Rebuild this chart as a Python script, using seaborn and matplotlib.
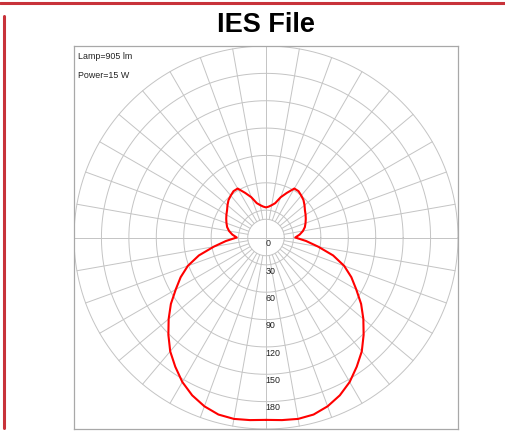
import numpy as np
import pandas as pd
import matplotlib
matplotlib.use("Agg")
import matplotlib.pyplot as plt
from matplotlib.lines import Line2D
import seaborn as sns

# vertical angle from nadir (deg) and intensity
angles = [0, 5, 10, 15, 20, 25, 30, 35, 40, 45, 50, 55, 60, 65, 70, 75, 80, 85, 90,
          95, 100, 105, 110, 115, 120, 125, 130, 135, 140, 145, 150, 155, 160, 165,
          170, 175, 180]
candela = [200, 201, 202, 201, 197, 191, 183, 173, 163, 151, 139, 127, 114, 103, 91,
           76, 58, 44, 32, 37, 41, 44, 46, 48, 50, 52, 55, 58, 60, 62, 62, 54, 47,
           39, 36, 34, 33]
ring_values = [30, 60, 90, 120, 150, 180, 210]
ring_labels = ["0", "30", "60", "90", "120", "150", "180"]
spoke_angles = list(range(0, 360, 10))
lamp_text = "Lamp=905 lm"
power_text = "Power=15 W"

sns.set_style("white")
plt.rcParams["font.family"] = ["Liberation Sans", "DejaVu Sans"]

# both halves of the C0 plane, right side then mirrored left side
g = np.radians(angles)
r = np.array(candela, dtype=float)
xs = np.concatenate([r * np.sin(g), -(r * np.sin(g))[::-1]])
ys = np.concatenate([-r * np.cos(g), (-r * np.cos(g))[::-1]])
df = pd.DataFrame({"x": xs, "y": ys, "order": np.arange(len(xs))})

fig = plt.figure(figsize=(5.06, 4.34), dpi=100)
ax = fig.add_axes([74 / 506, 5 / 434, 384 / 506, 383 / 434])
ax.set_xlim(-210, 210)
ax.set_ylim(-210, 210)
ax.set_xticks([])
ax.set_yticks([])
for s in ax.spines.values():
    s.set_color("#a8a8a8")
    s.set_linewidth(0.9)

grid_kw = dict(color="#c4c4c4", lw=0.7, zorder=1)
t = np.linspace(0, 2 * np.pi, 400)
ax.plot(20 * np.cos(t), 20 * np.sin(t), **grid_kw)
for rv in ring_values:
    ax.plot(rv * np.cos(t), rv * np.sin(t), **grid_kw)
for a in spoke_angles:
    ar = np.radians(a)
    start = 0 if a % 90 == 0 else 20
    ax.plot([start * np.sin(ar), 210 * np.sin(ar)],
            [start * np.cos(ar), 210 * np.cos(ar)], **grid_kw)

sns.lineplot(data=df, x="x", y="y", sort=False, estimator=None, color="#ff0000",
             lw=1.5, ax=ax, zorder=3)
ax.set_xlabel("")
ax.set_ylabel("")

for i, lab in enumerate(ring_labels):
    ax.text(-0.5, -30 * i - 6.8, lab, ha="left", va="center", fontsize=6.4,
            color="#222222", zorder=4)

ax.text(0.011, 0.973, lamp_text, transform=ax.transAxes, ha="left", va="center",
        fontsize=6.4, color="#222222")
ax.text(0.011, 0.923, power_text, transform=ax.transAxes, ha="left", va="center",
        fontsize=6.4, color="#222222")

fig.text(0.525, 1 - 25 / 434, "IES File", ha="center", va="center",
         fontsize=19.5, fontweight="bold", color="black")

# red page decorations
fig.add_artist(Line2D([0, 1], [1 - 3.3 / 434] * 2, color="#c8323a", lw=2.2))
fig.add_artist(Line2D([4.2 / 506] * 2, [1 - 16 / 434, 1 - 428 / 434],
                      color="#c8323a", lw=2.2))

fig.savefig("out.png", dpi=100)
